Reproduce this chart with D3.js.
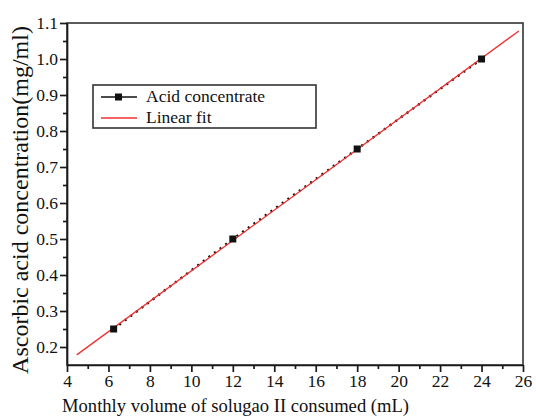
<!DOCTYPE html>
<meta charset="utf-8">
<title>Ascorbic acid calibration</title>
<style>
  body { margin: 0; background: #fff; }
  svg text { font-family: 'Liberation Serif', 'DejaVu Serif', serif; fill: #111; }
  .axis path, .axis line { stroke: #1a1a1a; stroke-width: 1.7px; }
</style>
<svg width="536" height="416"></svg>
<script src="https://cdn.jsdelivr.net/npm/d3@7"></script>
<script>
// measured points
var volume = [6.25, 12, 18, 24];
var acid = [0.25, 0.5, 0.75, 1.0];
// linear fit drawn between these x
var fitRange = [4.47, 25.8];
var xTicks = [4, 6, 8, 10, 12, 14, 16, 18, 20, 22, 24, 26];
var yTicks = [0.2, 0.3, 0.4, 0.5, 0.6, 0.7, 0.8, 0.9, 1.0, 1.1];
var legendNames = ["Acid concentrate", "Linear fit"];

var svg = d3.select("svg");
var plotL = 67, plotR = 523, plotT = 23, plotB = 365;

var x = d3.scaleLinear().domain([4, 26]).range([plotL, plotR]);
var y = d3.scaleLinear().domain([0.15, 1.1]).range([plotB, plotT]);

// least squares
var mx = d3.mean(volume), my = d3.mean(acid);
var slope = d3.sum(volume, function(v, i){ return (v - mx) * (acid[i] - my); }) /
            d3.sum(volume, function(v){ return (v - mx) * (v - mx); });
var icpt = my - slope * mx;

// frame
svg.append("rect")
  .attr("x", plotL).attr("y", plotT)
  .attr("width", plotR - plotL).attr("height", plotB - plotT)
  .attr("fill", "none").attr("stroke", "#333").attr("stroke-width", 1.6);

// minor ticks
svg.append("g").attr("class", "axis")
  .attr("transform", "translate(0," + plotB + ")")
  .call(d3.axisBottom(x).tickValues(d3.range(5, 26, 2)).tickSize(4).tickFormat(""))
  .select(".domain").remove();
svg.append("g").attr("class", "axis")
  .attr("transform", "translate(" + plotL + ",0)")
  .call(d3.axisLeft(y).tickValues(d3.range(0.25, 1.1, 0.1)).tickSize(4).tickFormat(""))
  .select(".domain").remove();

var xAxis = svg.append("g").attr("class", "axis")
  .attr("transform", "translate(0," + plotB + ")")
  .call(d3.axisBottom(x).tickValues(xTicks).tickSize(7).tickSizeOuter(0).tickPadding(3).tickFormat(d3.format("d")));
xAxis.selectAll("text").attr("font-size", 17.5);

var yAxis = svg.append("g").attr("class", "axis")
  .attr("transform", "translate(" + plotL + ",0)")
  .call(d3.axisLeft(y).tickValues(yTicks).tickSize(7).tickSizeOuter(0).tickPadding(2).tickFormat(d3.format(".1f")));
yAxis.selectAll("text").attr("font-size", 17.5);

// data line (dotted black) and fit
var line = d3.line().x(function(d){ return x(d[0]); }).y(function(d){ return y(d[1]); });
var pts = volume.map(function(v, i){ return [v, acid[i]]; });

svg.append("path").datum(pts)
  .attr("d", line).attr("fill", "none")
  .attr("stroke", "#111").attr("stroke-width", 2.4).attr("stroke-dasharray", "2,5");

svg.append("path")
  .datum(fitRange.map(function(v){ return [v, icpt + slope * v]; }))
  .attr("d", line).attr("fill", "none")
  .attr("stroke", "#f03030").attr("stroke-width", 1.3);

svg.selectAll(".pt").data(pts).enter().append("rect")
  .attr("class", "pt")
  .attr("x", function(d){ return x(d[0]) - 3.5; })
  .attr("y", function(d){ return y(d[1]) - 3.5; })
  .attr("width", 7).attr("height", 7).attr("fill", "#111");

// legend
var lg = svg.append("g").attr("transform", "translate(93,85)");
lg.append("rect").attr("width", 223).attr("height", 43)
  .attr("fill", "#fff").attr("stroke", "#333").attr("stroke-width", 1.6);
lg.append("line").attr("x1", 8).attr("x2", 44).attr("y1", 12).attr("y2", 12)
  .attr("stroke", "#111").attr("stroke-width", 1.6);
lg.append("rect").attr("x", 22).attr("y", 8.5).attr("width", 7).attr("height", 7).attr("fill", "#111");
lg.append("line").attr("x1", 8).attr("x2", 44).attr("y1", 33).attr("y2", 33)
  .attr("stroke", "#f03030").attr("stroke-width", 1.3);
lg.selectAll(".lt").data(legendNames).enter().append("text")
  .attr("x", 53).attr("y", function(d, i){ return 17 + i * 21; })
  .attr("font-size", 17.5).text(function(d){ return d; });

// axis titles
svg.append("text")
  .attr("x", 62).attr("y", 412)
  .attr("font-size", 18.6)
  .text("Monthly volume of solugao II consumed (mL)");

svg.append("text")
  .attr("transform", "translate(28,200) rotate(-90)")
  .attr("text-anchor", "middle")
  .attr("font-size", 24)
  .text("Ascorbic acid concentration(mg/ml)");
</script>
